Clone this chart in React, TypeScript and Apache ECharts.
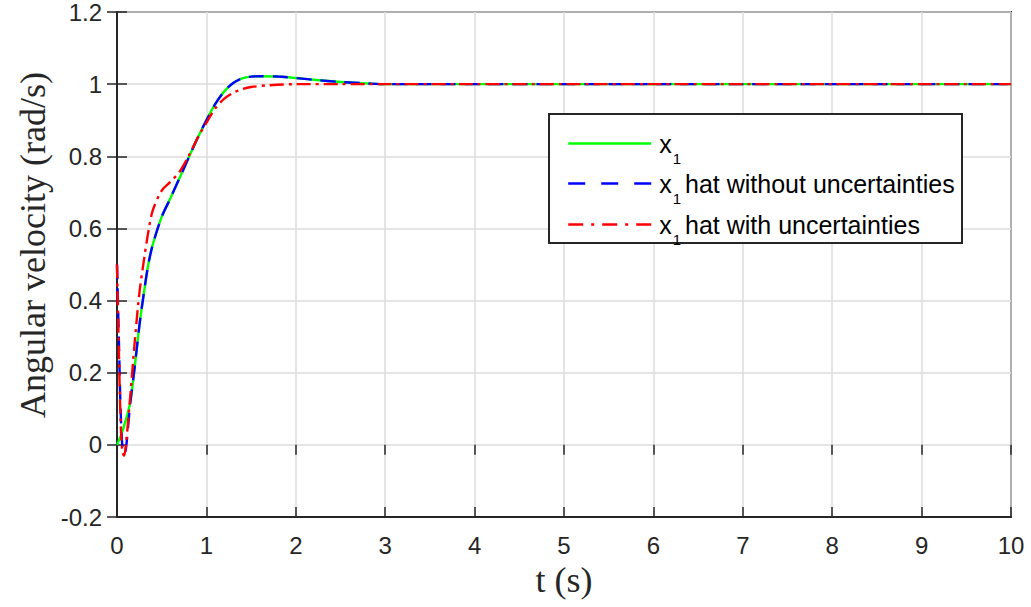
import React, { useEffect, useRef } from "react";
import * as echarts from "echarts";

// time stamps and values
const tX1 = [0, 0.05, 0.1, 0.15, 0.2, 0.25, 0.3, 0.35, 0.4, 0.5, 0.6, 0.7, 0.8, 0.9, 1.0, 1.1, 1.2, 1.3, 1.4, 1.5, 1.6, 1.8, 2.0, 2.2, 2.5, 2.8, 3.0, 4, 5, 6, 7, 8, 9, 10];
const x1 = [0, 0.03, 0.07, 0.12, 0.22, 0.33, 0.42, 0.5, 0.555, 0.632, 0.685, 0.74, 0.795, 0.85, 0.9, 0.945, 0.98, 1.003, 1.016, 1.021, 1.022, 1.021, 1.017, 1.012, 1.006, 1.002, 1.0, 1, 1, 1, 1, 1, 1, 1];

const tHat = [0, 0.02, 0.04, 0.06, 0.08, 0.1, 0.12, 0.15, 0.2, 0.25, 0.3, 0.35, 0.4, 0.5, 0.6, 0.7, 0.8, 0.9, 1.0, 1.1, 1.2, 1.3, 1.4, 1.5, 1.6, 1.8, 2.0, 2.2, 2.5, 2.8, 3.0, 4, 5, 6, 7, 8, 9, 10];
const x1HatNoUnc = [0.5, 0.3, 0.1, -0.005, -0.025, -0.01, 0.04, 0.12, 0.22, 0.33, 0.42, 0.5, 0.555, 0.632, 0.685, 0.74, 0.795, 0.85, 0.9, 0.945, 0.98, 1.003, 1.016, 1.021, 1.022, 1.021, 1.017, 1.012, 1.006, 1.002, 1.0, 1, 1, 1, 1, 1, 1, 1];

const tHatUnc = [0, 0.02, 0.04, 0.06, 0.08, 0.1, 0.15, 0.2, 0.25, 0.3, 0.35, 0.4, 0.5, 0.6, 0.7, 0.8, 0.9, 1.0, 1.1, 1.2, 1.3, 1.4, 1.5, 1.7, 2.0, 2.5, 3, 4, 5, 6, 7, 8, 9, 10];
const x1HatUnc = [0.5, 0.27, 0.07, -0.02, -0.03, 0.0, 0.14, 0.29, 0.42, 0.51, 0.59, 0.65, 0.705, 0.73, 0.757, 0.8, 0.85, 0.893, 0.933, 0.96, 0.976, 0.986, 0.992, 0.997, 1.0, 1, 1, 1, 1, 1, 1, 1, 1, 1];

const seriesNames = ["x1", "x1 hat without uncertainties", "x1 hat with uncertainties"];
const seriesColors = ["#00ff00", "#0000ff", "#ff0000"];

const xTicks = { min: 0, max: 10, interval: 1 };
const yTicks = { min: -0.2, max: 1.2, interval: 0.2 };

const AXIS_COLOR = "#262626";
const SANS = "'Liberation Sans', Arial, Helvetica, sans-serif";
const SERIF = "'Liberation Serif', 'Times New Roman', serif";

function pairs(t: number[], v: number[]) {
  return t.map((x, i) => [x, v[i]]);
}

export default function App() {
  const ref = useRef<HTMLDivElement>(null);

  useEffect(() => {
    if (!ref.current) return;
    const chart = echarts.init(ref.current, undefined, { renderer: "svg" });

    const legendRows = [138, 178, 219];
    const legendDash: any[] = ["solid", [17, 16], [15, 8, 3, 8]];
    const legendFormatter = (name: string) => {
      const rest = name.slice(3);
      return rest ? `{m|x}{s|1}{h|${rest}}` : `{m|x}{s|1}`;
    };
    const legends = seriesNames.map((n, i) => ({
      data: [n],
      left: 567,
      top: legendRows[i] - 7,
      orient: "vertical",
      itemWidth: 83,
      itemHeight: 14,
      padding: 0,
      selectedMode: false,
      z: 5,
      itemStyle: { opacity: 0 },
      lineStyle: { type: legendDash[i], width: 2.4 },
      formatter: legendFormatter,
      textStyle: {
        rich: {
          m: { fontSize: 25, fontFamily: SANS, color: "#000", padding: [0, 0, 0, 3] },
          h: { fontSize: 25, fontFamily: SANS, color: "#000", padding: [0, 0, 0, 4] },
          s: { fontSize: 15, fontFamily: SANS, color: "#000", padding: [29, 0, 0, 1] },
        },
      },
    }));

    const tickAxisCommon = {
      axisLine: { show: false },
      axisTick: { show: true, inside: true, length: 10, lineStyle: { color: AXIS_COLOR, width: 1.5 } },
      axisLabel: { show: false },
      splitLine: { show: false },
    };

    chart.setOption({
      animation: false,
      backgroundColor: "#ffffff",
      grid: {
        left: 117,
        right: 20,
        top: 12,
        bottom: 90,
        show: true,
        borderColor: AXIS_COLOR,
        borderWidth: 2,
        backgroundColor: "transparent",
      },
      xAxis: [
        {
          type: "value",
          min: xTicks.min,
          max: xTicks.max,
          interval: xTicks.interval,
          name: "t (s)",
          nameLocation: "middle",
          nameGap: 44,
          nameTextStyle: { fontFamily: SERIF, fontSize: 36, color: AXIS_COLOR },
          axisLine: { show: true, onZero: false, lineStyle: { color: AXIS_COLOR, width: 2 } },
          axisTick: { show: true, inside: true, length: 10, lineStyle: { color: AXIS_COLOR, width: 1.5 } },
          axisLabel: { margin: 16, fontFamily: SANS, fontSize: 24, color: AXIS_COLOR },
          splitLine: { show: true, lineStyle: { color: "#dcdcdc", width: 1.5 } },
        },
        { type: "value", position: "top", min: xTicks.min, max: xTicks.max, interval: xTicks.interval, ...tickAxisCommon },
      ],
      yAxis: [
        {
          type: "value",
          min: yTicks.min,
          max: yTicks.max,
          interval: yTicks.interval,
          axisLine: { show: true, onZero: false, lineStyle: { color: AXIS_COLOR, width: 2 } },
          axisTick: { show: true, inside: true, length: 10, lineStyle: { color: AXIS_COLOR, width: 1.5 } },
          axisLabel: {
            margin: 15,
            fontFamily: SANS,
            fontSize: 24,
            color: AXIS_COLOR,
            formatter: (v: number) => String(parseFloat(v.toFixed(1))),
          },
          splitLine: { show: true, lineStyle: { color: "#dcdcdc", width: 1.5 } },
        },
        { type: "value", position: "right", min: yTicks.min, max: yTicks.max, interval: yTicks.interval, ...tickAxisCommon },
      ],
      legend: legends,
      graphic: [
        {
          type: "text",
          x: 33,
          y: 245,
          rotation: Math.PI / 2,
          style: {
            text: "Angular velocity (rad/s)",
            font: `36px ${SERIF}`,
            fill: AXIS_COLOR,
            textAlign: "center",
            textVerticalAlign: "middle",
          },
        },
        {
          type: "rect",
          z: 3,
          shape: { x: 549, y: 114, width: 413, height: 129 },
          style: { fill: "#ffffff", stroke: "#262626", lineWidth: 2 },
        },
      ],
      series: [
        {
          name: seriesNames[0],
          type: "line",
          data: pairs(tX1, x1),
          smooth: 0.3,
          symbol: "none",
          lineStyle: { color: seriesColors[0], width: 2.4, type: "solid" },
          itemStyle: { color: seriesColors[0] },
          z: 2,
        },
        {
          name: seriesNames[1],
          type: "line",
          data: pairs(tHat, x1HatNoUnc),
          smooth: 0.3,
          symbol: "none",
          lineStyle: { color: seriesColors[1], width: 2.4, type: [15, 9] },
          itemStyle: { color: seriesColors[1] },
          z: 3,
        },
        {
          name: seriesNames[2],
          type: "line",
          data: pairs(tHatUnc, x1HatUnc),
          smooth: 0.3,
          symbol: "none",
          lineStyle: { color: seriesColors[2], width: 2.4, type: [14, 5, 3, 5] },
          itemStyle: { color: seriesColors[2] },
          z: 4,
        },
      ],
    });

    return () => chart.dispose();
  }, []);

  return <div ref={ref} style={{ width: 1031, height: 607, position: "absolute", left: 0, top: 0 }} />;
}
